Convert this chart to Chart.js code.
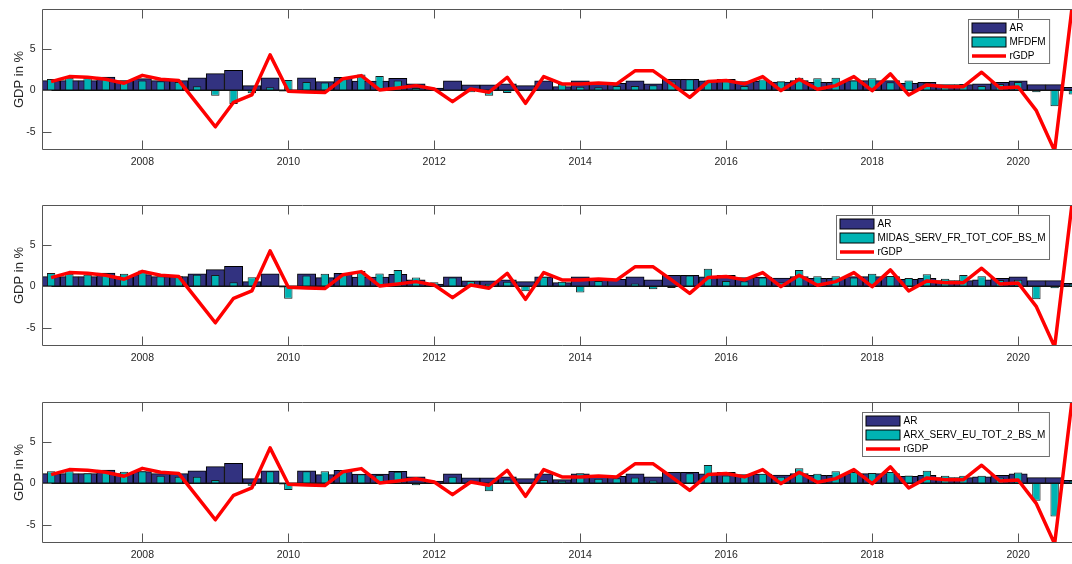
<!DOCTYPE html>
<html>
<head>
<meta charset="utf-8">
<script src="https://cdn.jsdelivr.net/npm/chart.js@4.4.1/dist/chart.umd.min.js"></script>
<style>
html, body { margin: 0; padding: 0; background: #fff; overflow: hidden; width: 1072px; height: 564px; }
.panel { position: absolute; left: 0; width: 1082px; height: 180px; }
</style>
</head>
<body>
<div class="panel" style="top:0px"><canvas id="p1" width="1082" height="180"></canvas></div>
<div class="panel" style="top:196px"><canvas id="p2" width="1082" height="180"></canvas></div>
<div class="panel" style="top:393px"><canvas id="p3" width="1082" height="180"></canvas></div>
<script>
var quarters = ['2006Q3', '2006Q4',
    '2007Q1', '2007Q2', '2007Q3', '2007Q4', '2008Q1', '2008Q2', '2008Q3', '2008Q4',
    '2009Q1', '2009Q2', '2009Q3', '2009Q4', '2010Q1', '2010Q2', '2010Q3', '2010Q4',
    '2011Q1', '2011Q2', '2011Q3', '2011Q4', '2012Q1', '2012Q2', '2012Q3', '2012Q4',
    '2013Q1', '2013Q2', '2013Q3', '2013Q4', '2014Q1', '2014Q2', '2014Q3', '2014Q4',
    '2015Q1', '2015Q2', '2015Q3', '2015Q4', '2016Q1', '2016Q2', '2016Q3', '2016Q4',
    '2017Q1', '2017Q2', '2017Q3', '2017Q4', '2018Q1', '2018Q2', '2018Q3', '2018Q4',
    '2019Q1', '2019Q2', '2019Q3', '2019Q4', '2020Q1', '2020Q2', '2020Q3'];
var yearTicks = [2008, 2010, 2012, 2014, 2016, 2018, 2020];
var gdpTicks = [-5, 0, 5];

var rGDP = [1.05, 1.65, 1.57, 1.33, 0.85, 1.8, 1.33, 1.17, -1.6, -4.4,
    -1.45, -0.56, 4.27, -0.12, -0.2, -0.28, 1.4, 1.77, 0.04, 0.28,
    0.56, 0.16, -1.37, 0.16, -0.24, 1.57, -1.57, 1.65, 0.77, 0.77,
    0.89, 0.77, 2.34, 2.34, 0.77, -0.85, 1.05, 1.17, 0.77, 1.65,
    -0.04, 1.33, 0.12, 0.56, 1.65, -0.04, 1.98, -0.56, 0.65, 0.44,
    0.44, 2.18, 0.28, 0.4, -2.46, -7.3, 10.8];

var arFcst = [1.17, 1.17, 1.17, 1.6, 1.17, 1.4, 1.17, 1.17, 1.5, 2.0,
    2.4, 0.56, 1.5, -0.1, 1.5, 1.05, 1.57, 1.1, 1.1, 1.45,
    0.77, 0.28, 1.13, 0.65, 0.65, 0.77, 0.56, 1.13, 0.44, 1.13,
    0.77, 0.85, 1.13, 0.77, 1.33, 1.33, 1.13, 1.33, 1.05, 1.1,
    1.0, 1.17, 0.97, 0.97, 1.17, 1.17, 1.17, 0.85, 0.97, 0.69,
    0.69, 0.77, 0.97, 1.13, 0.69, 0.69, 0.36];

var mfdfm = [1.37, 1.5, 1.5, 1.5, 1.17, 1.17, 1.1, 1.0, 0.5, -0.65,
    -1.65, -0.36, 0.36, 1.25, 1.0, 0.93, 1.5, 1.9, 1.73, 1.17,
    0.28, 0.05, 0.02, -0.24, -0.65, -0.32, -0.1, -0.05, 0.77, 0.44,
    0.36, 0.52, 0.52, 0.6, 1.05, 1.33, 1.17, 1.3, 0.52, 1.3,
    1.1, 1.5, 1.45, 1.5, 1.17, 1.45, 0.97, 1.17, 0.85, 0.44,
    0.77, 0.52, 0.77, 1.0, -0.24, -1.94, -0.5];

var midasServ = [1.6, 1.5, 1.4, 1.4, 1.5, 1.9, 1.2, 1.2, 1.4, 1.35,
    0.5, 1.1, 0.1, -1.5, 1.3, 1.5, 1.45, 1.85, 1.55, 1.95,
    1.05, 0.5, 1.05, 0.65, 0.3, 0.55, -0.6, 1.15, 0.55, -0.75,
    0.65, -0.1, 0.35, -0.35, -0.2, 1.3, 2.1, 0.65, 0.6, 1.05,
    0.5, 1.95, 1.2, 1.2, 1.05, 1.5, 1.25, 1.0, 1.45, 0.9,
    1.35, 1.2, 0.75, 0.8, -1.55, -0.25, 0.3];

var arxServ = [1.45, 1.45, 1.2, 1.35, 1.4, 1.45, 0.9, 0.8, 0.8, 0.4,
    0.1, -0.3, 1.45, -0.8, 1.45, 1.45, 1.6, 1.1, 1.0, 1.4,
    -0.25, 0.1, 0.8, 0.3, -0.95, 0.45, 0.1, 0.4, 0.3, 1.2,
    0.55, 0.6, 0.7, 0.35, 0.1, 1.2, 2.2, 0.95, 0.95, 1.15,
    0.8, 1.8, 1.15, 1.45, 1.35, 1.25, 1.35, 0.95, 1.5, 0.9,
    0.9, 0.9, 0.7, 1.3, -2.1, -4.0, 0.3];

var fontFam = '"Liberation Sans", Arial, sans-serif';
Chart.defaults.font.family = fontFam;
Chart.defaults.color = '#262626';

// quarter label -> position on the year axis (end of quarter)
function qPos(q) {
    return +q.slice(0, 4) + (+q.slice(5)) / 4;
}
function toPoints(vals) {
    return quarters.map(function(q, i) { return { x: qPos(q), y: vals[i] }; });
}

// MATLAB-like box: frame, inward ticks, zero baseline, boxed legend
var matlabAxes = {
    id: 'matlabAxes',
    beforeDatasetDraw: function(chart, args) {
        if (args.meta.type !== 'line') return;
        var ctx = chart.ctx, a = chart.chartArea;
        var y0 = chart.scales.y.getPixelForValue(0);
        ctx.save();
        ctx.strokeStyle = '#111';
        ctx.lineWidth = 1.5;
        ctx.beginPath();
        ctx.moveTo(a.left, y0);
        ctx.lineTo(a.right, y0);
        ctx.stroke();
        ctx.restore();
    },
    afterDraw: function(chart) {
        var ctx = chart.ctx, a = chart.chartArea;
        var xs = chart.scales.x, ys = chart.scales.y;
        var L = Math.round(a.left) + 0.5, T = Math.round(a.top) + 0.5, B = Math.round(a.bottom) - 0.5;
        ctx.save();
        ctx.strokeStyle = '#555';
        ctx.lineWidth = 1;
        ctx.beginPath();
        ctx.moveTo(a.right + 5, T); ctx.lineTo(L, T); ctx.lineTo(L, B); ctx.lineTo(a.right + 5, B);
        yearTicks.forEach(function(v) {
            var px = Math.round(xs.getPixelForValue(v)) + 0.5;
            ctx.moveTo(px, B); ctx.lineTo(px, B - 9);
            ctx.moveTo(px, T); ctx.lineTo(px, T + 9);
        });
        gdpTicks.forEach(function(v) {
            var py = Math.round(ys.getPixelForValue(v)) + 0.5;
            ctx.moveTo(L, py); ctx.lineTo(L + 9, py);
        });
        ctx.stroke();

        // legend
        var sets = chart.data.datasets;
        ctx.font = '10px ' + fontFam;
        var maxW = 0;
        sets.forEach(function(d) { maxW = Math.max(maxW, ctx.measureText(d.label).width); });
        var boxW = 41 + maxW + 4, boxH = 44;
        var bx = Math.round(1049 - boxW) + 0.5, by = Math.round(a.top + 9.5) + 0.5;
        ctx.fillStyle = '#fff';
        ctx.fillRect(bx, by, boxW, boxH);
        ctx.strokeStyle = '#6e6e6e';
        ctx.strokeRect(bx, by, boxW, boxH);
        sets.forEach(function(d, i) {
            var cy = by + 8.5 + i * 14;
            if (d.type === 'line') {
                ctx.strokeStyle = d.borderColor;
                ctx.lineWidth = 3.5;
                ctx.beginPath();
                ctx.moveTo(bx + 3.5, cy); ctx.lineTo(bx + 37.5, cy);
                ctx.stroke();
            } else {
                ctx.fillStyle = d.backgroundColor;
                ctx.fillRect(bx + 3.5, cy - 5, 34, 10);
                ctx.strokeStyle = '#000';
                ctx.lineWidth = 1;
                ctx.strokeRect(bx + 3.5, cy - 5, 34, 10);
            }
            ctx.fillStyle = '#000';
            ctx.textBaseline = 'middle';
            ctx.textAlign = 'left';
            ctx.fillText(d.label, bx + 41, cy + 0.5);
        });
        ctx.restore();
    }
};

function makePanel(id, name, vals) {
    return new Chart(document.getElementById(id), {
        type: 'bar',
        data: {
            datasets: [{
                label: 'AR',
                data: toPoints(arFcst),
                backgroundColor: '#323280',
                borderColor: '#000',
                borderWidth: 1,
                barPercentage: 1,
                categoryPercentage: 1,
                grouped: false,
                order: 2
            }, {
                label: name,
                data: toPoints(vals),
                backgroundColor: '#00b3b3',
                borderColor: '#1a1a1a',
                borderWidth: 1,
                barPercentage: 0.46,
                categoryPercentage: 1,
                grouped: false,
                order: 1
            }, {
                type: 'line',
                label: 'rGDP',
                data: toPoints(rGDP),
                borderColor: '#ff0000',
                borderWidth: 3.5,
                borderJoinStyle: 'round',
                pointRadius: 0,
                tension: 0,
                fill: false,
                order: 0
            }]
        },
        options: {
            responsive: false,
            animation: false,
            layout: { padding: { top: 9, left: 0, right: 0, bottom: 0 } },
            plugins: {
                legend: { display: false },
                tooltip: { enabled: false }
            },
            scales: {
                x: {
                    type: 'linear',
                    min: 2006.625,
                    max: 2020.875,
                    offset: false,
                    grid: { display: false, drawTicks: false },
                    border: { display: false },
                    afterBuildTicks: function(s) { s.ticks = yearTicks.map(function(v) { return { value: v }; }); },
                    ticks: {
                        padding: 6,
                        autoSkip: false,
                        maxRotation: 0,
                        font: { size: 10.5 },
                        color: '#262626',
                        callback: function(v) { return String(v); }
                    },
                    afterFit: function(s) {
                        s.height = 30;
                        s.paddingLeft = 0; s.paddingRight = 0; s.paddingTop = 0; s.paddingBottom = 0;
                    }
                },
                y: {
                    min: -7.2,
                    max: 9.8,
                    grid: { display: false, drawTicks: false },
                    border: { display: false },
                    afterBuildTicks: function(s) { s.ticks = gdpTicks.map(function(v) { return { value: v }; }); },
                    ticks: { padding: 6.5, font: { size: 10.5 }, color: '#262626' },
                    title: {
                        display: true,
                        text: 'GDP in %',
                        font: { size: 13 },
                        color: '#262626',
                        padding: { top: 12, bottom: 0 }
                    },
                    afterFit: function(s) {
                        s.width = 42;
                        s.paddingLeft = 0; s.paddingRight = 0; s.paddingTop = 0; s.paddingBottom = 0;
                    }
                }
            }
        },
        plugins: [matlabAxes]
    });
}

makePanel('p1', 'MFDFM', mfdfm);
makePanel('p2', 'MIDAS_SERV_FR_TOT_COF_BS_M', midasServ);
makePanel('p3', 'ARX_SERV_EU_TOT_2_BS_M', arxServ);
</script>
</body>
</html>
